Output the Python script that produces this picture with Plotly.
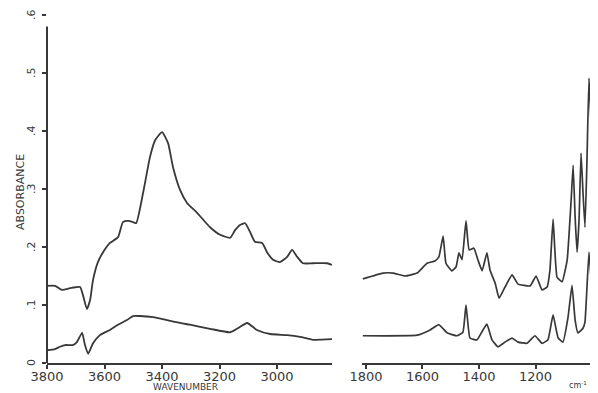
import plotly.graph_objects as go

# ---- data ----
# O-H / C-H stretching region (left panel)
wn_hi_top = [3800, 3772, 3748, 3720, 3685, 3675, 3661, 3650, 3640, 3623, 3605, 3581, 3553, 3536,
             3518, 3501, 3490, 3466, 3442, 3424, 3400, 3379, 3362, 3337, 3313, 3278, 3233, 3198,
             3163, 3146, 3129, 3111, 3094, 3077, 3052, 3035, 3014, 2990, 2965, 2948, 2930, 2910,
             2875, 2826, 2809]
abs_hi_top = [0.133, 0.133, 0.126, 0.129, 0.131, 0.117, 0.093, 0.109, 0.143, 0.174, 0.191, 0.207,
              0.217, 0.243, 0.245, 0.243, 0.241, 0.293, 0.355, 0.384, 0.398, 0.379, 0.338, 0.298,
              0.276, 0.259, 0.234, 0.221, 0.216, 0.229, 0.238, 0.241, 0.226, 0.209, 0.207, 0.191,
              0.178, 0.174, 0.183, 0.195, 0.183, 0.172, 0.172, 0.172, 0.169]

wn_hi_bot = [3800, 3772, 3755, 3737, 3710, 3696, 3678, 3668, 3657, 3640, 3616, 3581, 3553, 3522,
             3501, 3477, 3431, 3383, 3337, 3303, 3233, 3163, 3136, 3104, 3070, 3024, 2965, 2920,
             2875, 2809]
abs_hi_bot = [0.022, 0.024, 0.028, 0.031, 0.031, 0.036, 0.052, 0.031, 0.016, 0.034, 0.048, 0.057,
              0.066, 0.074, 0.081, 0.081, 0.079, 0.074, 0.069, 0.066, 0.059, 0.053, 0.060, 0.069,
              0.057, 0.050, 0.048, 0.045, 0.040, 0.041]

# fingerprint region (right panel)
wn_lo_top = [1811, 1740, 1704, 1662, 1619, 1584, 1556, 1542, 1527, 1517, 1496, 1481, 1471, 1460,
             1446, 1435, 1418, 1404, 1389, 1372, 1361, 1343, 1329, 1308, 1283, 1262, 1219, 1198,
             1177, 1159, 1149, 1138, 1124, 1106, 1088, 1074, 1067, 1060, 1053, 1046, 1039, 1032,
             1025, 1018, 1011, 1004, 996, 982]
abs_lo_top = [0.145, 0.155, 0.155, 0.150, 0.155, 0.172, 0.176, 0.183, 0.219, 0.172, 0.159, 0.166,
              0.190, 0.178, 0.245, 0.195, 0.198, 0.178, 0.159, 0.190, 0.160, 0.138, 0.112, 0.131,
              0.152, 0.136, 0.133, 0.150, 0.126, 0.131, 0.160, 0.248, 0.148, 0.140, 0.178, 0.281,
              0.341, 0.252, 0.191, 0.247, 0.362, 0.293, 0.234, 0.350, 0.491, 0.419, 0.224, 0.224]

wn_lo_bot = [1811, 1619, 1573, 1542, 1513, 1478, 1457, 1446, 1432, 1407, 1386, 1372, 1354, 1333,
             1308, 1283, 1262, 1230, 1202, 1177, 1156, 1138, 1120, 1103, 1085, 1071, 1060, 1050,
             1032, 1025, 1011, 1000, 993, 982]
abs_lo_bot = [0.047, 0.048, 0.057, 0.066, 0.052, 0.047, 0.053, 0.100, 0.043, 0.040, 0.057, 0.067,
              0.040, 0.028, 0.036, 0.043, 0.036, 0.034, 0.047, 0.034, 0.040, 0.083, 0.043, 0.036,
              0.079, 0.134, 0.074, 0.052, 0.060, 0.071, 0.191, 0.121, 0.048, 0.048]

hi_ticks = [3800, 3600, 3400, 3200, 3000]
lo_ticks = [1800, 1600, 1400, 1200]
y_ticks = [0, 0.1, 0.2, 0.3, 0.4, 0.5, 0.6]
y_tick_text = ["0", ".1", ".2", ".3", ".4", ".5", ".6"]

# ---- figure ----
# the page body has an 8px default margin, so the figure is sized to fit the window
OFF = 8
W, H = 598 - OFF, 393 - OFF
INK = "#383838"
FONT = "DejaVu Sans"

def px(x):
    return (x - OFF) / W

def py(y):
    return 1 - (y - OFF) / H

fig = go.Figure()
line = dict(color=INK, width=1.8, shape="spline", smoothing=0.5)
fig.add_trace(go.Scatter(x=wn_hi_top, y=abs_hi_top, mode="lines", line=line, xaxis="x", yaxis="y"))
fig.add_trace(go.Scatter(x=wn_hi_bot, y=abs_hi_bot, mode="lines", line=line, xaxis="x", yaxis="y"))
line2 = dict(color=INK, width=1.7, shape="spline", smoothing=0.35)
fig.add_trace(go.Scatter(x=wn_lo_top, y=abs_lo_top, mode="lines", line=line2, xaxis="x2", yaxis="y"))
fig.add_trace(go.Scatter(x=wn_lo_bot, y=abs_lo_bot, mode="lines", line=line2, xaxis="x2", yaxis="y"))

axis_common = dict(showline=True, linecolor=INK, linewidth=2, ticks="outside", ticklen=4,
                   tickwidth=1.5, tickcolor=INK, showgrid=False, zeroline=False,
                   automargin=False, ticklabelstandoff=-4,
                   tickfont=dict(family=FONT, size=13, color=INK))

fig.update_layout(
    template="none",
    width=W, height=H,
    margin=dict(l=0, r=0, t=0, b=0, pad=0, autoexpand=False),
    paper_bgcolor="white", plot_bgcolor="white",
    showlegend=False,
    xaxis=dict(domain=[px(47), px(332)], range=[3800, 2809], anchor="y",
               tickvals=hi_ticks, ticktext=[str(t) for t in hi_ticks], **axis_common),
    xaxis2=dict(domain=[px(362), 1.0], range=[1814, 979], anchor="y",
                tickvals=lo_ticks, ticktext=[str(t) for t in lo_ticks], **axis_common),
    yaxis=dict(domain=[py(363), py(15)], range=[0, 0.6], anchor="x", automargin=False,
               showline=False, ticks="outside", ticklen=4, tickwidth=1.5, tickcolor=INK,
               tickvals=y_ticks, showticklabels=False, showgrid=False, zeroline=False),
)

# vertical absorbance axis line
fig.add_shape(type="line", xref="paper", yref="y", x0=px(47), x1=px(47), y0=0, y1=0.58,
              line=dict(color=INK, width=2))

annotations = []
for v, t in zip(y_ticks, y_tick_text):
    annotations.append(dict(x=px(31), y=v, xref="paper", yref="y", text=t, showarrow=False,
                            xanchor="center", yanchor="middle",
                            textangle=-90, font=dict(family=FONT, size=11, color=INK)))
annotations.append(dict(x=px(21), y=py(192), xref="paper", yref="paper", text="ABSORBANCE",
                        showarrow=False, textangle=-90, xanchor="center", yanchor="middle",
                        font=dict(family=FONT, size=11, color=INK)))
annotations.append(dict(x=px(185), y=py(387), xref="paper", yref="paper", text="WAVENUMBER",
                        showarrow=False, xanchor="center", yanchor="middle",
                        font=dict(family=FONT, size=9, color=INK)))
annotations.append(dict(x=px(578), y=py(385), xref="paper", yref="paper", text="cm<sup>-1</sup>",
                        showarrow=False, xanchor="center", yanchor="middle",
                        font=dict(family=FONT, size=8, color=INK)))
fig.update_layout(annotations=annotations)

fig.write_html("out.html")
